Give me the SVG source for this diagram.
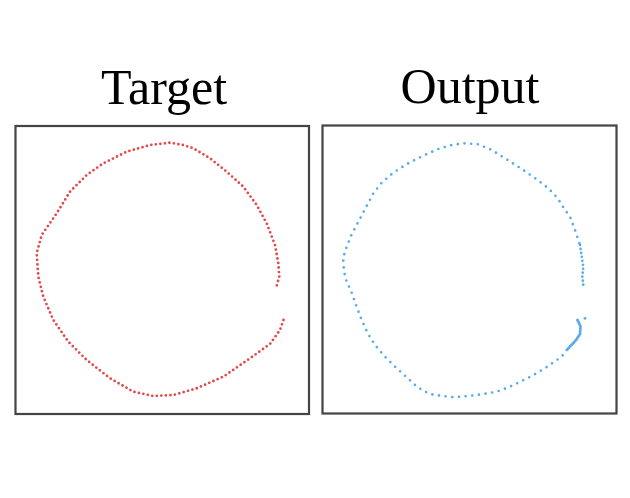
<svg xmlns="http://www.w3.org/2000/svg" width="630" height="498" viewBox="0 0 630 498">
<style>
.title{font-family:"Liberation Serif","Times New Roman",serif;font-size:50px;fill:#000;text-anchor:middle}
.frame{fill:none;stroke:#444;stroke-width:2.2}
.red{fill:none;stroke:#e04b4b;stroke-width:2.8;stroke-linecap:round;stroke-dasharray:0 4.55}
.blue{fill:none;stroke:#5aabec;stroke-width:2.7;stroke-linecap:round;stroke-dasharray:0 6.7}
.blue-dense{fill:none;stroke:#5aabec;stroke-width:2.7;stroke-linecap:round;stroke-dasharray:0 4}
.blue-hook{fill:none;stroke:#5aabec;stroke-width:3;stroke-linecap:round;stroke-dasharray:0 1.8}
</style>
<rect width="630" height="498" fill="#fff"/>
<g id="target">
<text class="title" x="164" y="104">Target</text>
<rect class="frame" x="15.5" y="126" width="293.5" height="288"/>
<path class="red" d="M283.5,320 L280,330 L270,344 L250,358.3 L223.3,376.7 L196.7,388.3 L173.3,395 L153.3,396 L133.3,391.7 L110,378.3 L86.7,360 L68.3,341.7 L53.3,320 L43.3,296.7 L38.3,276.7 L36.7,253.3 L41.7,235 L56.7,213.3 L70,191.7 L86.7,175 L103.3,163.3 L126.7,151.7 L150,145 L170,142.7 L183.3,145 L193.3,148.3 L210,158.3 L226.7,171.7 L243.3,186.7 L256.7,205 L266.7,223.3 L275,245 L278.3,263.3 L279.3,276.7 L276.7,285.7"/>
</g>
<g id="output">
<text class="title" x="470" y="103">Output</text>
<rect class="frame" x="322.5" y="125.5" width="294" height="288"/>
<circle cx="585" cy="318.3" r="1.4" fill="#5aabec"/>
<path class="blue-hook" d="M577.5,320 L580.5,326 L580,334 L576,340 L566.7,350"/>
<path class="blue" d="M566.7,350 L561.7,356.7 L554.3,361.7 L545,368.3 L531.7,376 L518.3,382.7 L507.7,387.7 L496.7,391.7 L481.7,394.3 L468.3,396 L454.3,397.3 L442.7,396 L431.7,394.3 L423.3,391 L414.3,384.3 L404.3,375 L394.3,366 L384.3,356 L375,345 L367.7,333.3 L361,318.3 L355.7,304 L350.7,290 L347.3,283.3 L345,276.7 L343.3,264 L343.3,257.3 L346.7,246.7 L351.7,234.3 L359.3,220 L366,207.3 L373.3,193.3 L381.7,182.7 L393.3,172.7 L408.3,163.3 L423.3,155.7 L438.3,149 L451.7,145 L465,143.3 L478.3,144.3 L491.7,150 L507.7,160 L523.3,170 L536.7,179.3 L548.3,188.3 L557.7,198.3 L565,210 L570,216.7 L575,230 L580,245"/>
<path class="blue-dense" d="M580,245 L581.7,256.7 L583.3,266.7 L582.3,276.7 L583.3,285"/>
</g>
</svg>
